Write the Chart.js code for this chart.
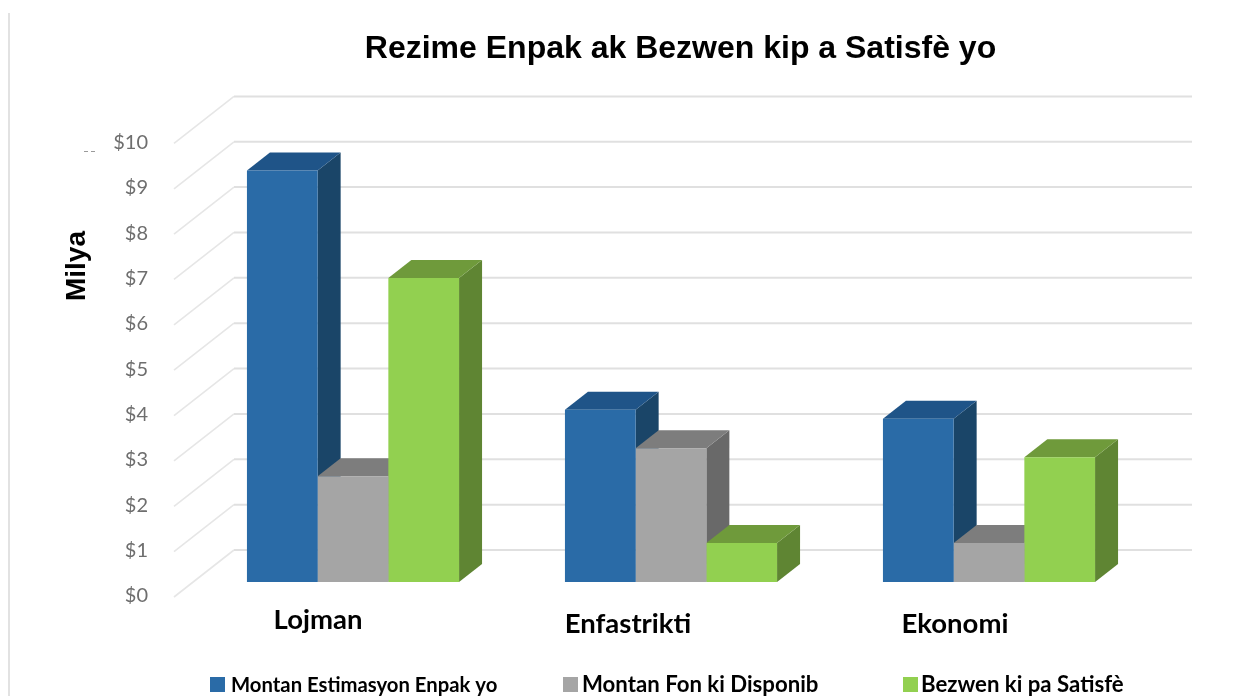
<!DOCTYPE html>
<html>
<head>
<meta charset="utf-8">
<style>
  html, body { margin: 0; padding: 0; background: #fff; }
  #wrap { width: 1235px; height: 696px; }
</style>
<script src="https://cdn.jsdelivr.net/npm/chart.js@4"></script>
</head>
<body>
<div id="wrap"><canvas id="chart" width="1235" height="696"></canvas></div>
<script>
// Data
const categories = ['Lojman', 'Enfastrikti', 'Ekonomi'];
const estimatedNeeds = [9.07, 3.8, 3.6];
const availableFunds = [2.33, 2.95, 0.86];
const unmetNeeds = [6.7, 0.86, 2.75];
const seriesNames = ['Montan Estimasyon Enpak yo', 'Montan Fon ki Disponib', 'Bezwen ki pa Satisfè'];
const yTicks = [0, 1, 2, 3, 4, 5, 6, 7, 8, 9, 10];

// Colours per series: front, top, side
const faces = [
    { front: '#2a6ba7', top: '#1f5488', side: '#1a4568' },
    { front: '#a5a5a5', top: '#7d7d7d', side: '#696969' },
    { front: '#92d050', top: '#6f9a3b', side: '#5f8533' }
];

// Legend and per-category label placement, as in the picture
const legendX = [210, 563, 903];
const legendTextGap = [21, 19, 18];
const legendFontSize = [20.3, 22.2, 22.2];
const labelShift = [-35, -43, -34];
const labelY = [620, 624, 624];

const BAR_DX = 23, BAR_DY = 18;     // depth of a bar
const WALL_DX = 60, WALL_DY = 47;   // depth of the floor
const FRONT_OFFSET = 15;            // front edge of the floor below the bar base

// Back wall, left wall and the 3D faces of the bars
const depthPlugin = {
    id: 'depth',
    afterLayout(chart) {
        // title sits to the right of the page centre
        chart.titleBlock.left = 126;
        chart.titleBlock.right = 1235;
    },
    beforeDatasetsDraw(chart) {
        const ctx = chart.ctx;
        const y = chart.scales.y;
        ctx.save();

        // stray frame line on the left of the picture
        ctx.strokeStyle = '#e2e2e2';
        ctx.lineWidth = 2;
        ctx.beginPath();
        ctx.moveTo(9, 13);
        ctx.lineTo(9, 696);
        ctx.stroke();

        yTicks.forEach(v => {
            const py = y.getPixelForValue(v) + FRONT_OFFSET;
            ctx.strokeStyle = '#e6e6e6';
            ctx.lineWidth = 1.6;
            ctx.beginPath();
            ctx.moveTo(174, py);
            ctx.lineTo(174 + WALL_DX, py - WALL_DY);
            ctx.stroke();
            ctx.strokeStyle = '#e0e0e0';
            ctx.lineWidth = 2;
            ctx.beginPath();
            ctx.moveTo(174 + WALL_DX, py - WALL_DY);
            ctx.lineTo(1192, py - WALL_DY);
            ctx.stroke();
        });
        ctx.restore();

        ctx.save();
        categories.forEach((c, i) => {
            chart.data.datasets.forEach((ds, d) => {
                const bar = chart.getDatasetMeta(d).data[i];
                const left = bar.x - bar.width / 2;
                const right = bar.x + bar.width / 2;
                ctx.fillStyle = faces[d].side;
                ctx.beginPath();
                ctx.moveTo(right, bar.y);
                ctx.lineTo(right + BAR_DX, bar.y - BAR_DY);
                ctx.lineTo(right + BAR_DX, bar.base - BAR_DY);
                ctx.lineTo(right, bar.base);
                ctx.closePath();
                ctx.fill();
                ctx.fillStyle = faces[d].top;
                ctx.beginPath();
                ctx.moveTo(left, bar.y);
                ctx.lineTo(left + BAR_DX, bar.y - BAR_DY);
                ctx.lineTo(right + BAR_DX, bar.y - BAR_DY);
                ctx.lineTo(right, bar.y);
                ctx.closePath();
                ctx.fill();
            });
        });
        ctx.restore();
    },
    afterDraw(chart) {
        const ctx = chart.ctx;
        const x = chart.scales.x;
        ctx.save();

        // category labels
        ctx.fillStyle = '#000';
        ctx.font = 'bold 27.5px Lato';
        ctx.textAlign = 'center';
        ctx.textBaseline = 'middle';
        categories.forEach((c, i) => {
            ctx.fillText(c, x.getPixelForValue(i) + labelShift[i], labelY[i]);
        });

        // legend
        ctx.textAlign = 'left';
        seriesNames.forEach((name, d) => {
            ctx.fillStyle = faces[d].front;
            ctx.fillRect(legendX[d], 677, 15, 15);
            ctx.fillStyle = '#000';
            ctx.font = 'bold ' + legendFontSize[d] + 'px Lato';
            ctx.fillText(name, legendX[d] + legendTextGap[d], 685);
        });

        // leftover specks next to the top tick
        ctx.strokeStyle = '#9a9a9a';
        ctx.lineWidth = 1;
        ctx.setLineDash([4, 3]);
        ctx.beginPath();
        ctx.moveTo(84, 151.5);
        ctx.lineTo(97, 151.5);
        ctx.stroke();
        ctx.setLineDash([]);

        // axis title
        ctx.fillStyle = '#000';
        ctx.translate(77, 266);
        ctx.rotate(-Math.PI / 2);
        ctx.textAlign = 'center';
        ctx.font = 'bold 28px "Liberation Sans"';
        ctx.fillText('Milya', 0, 0);
        ctx.restore();
    }
};

new Chart(document.getElementById('chart'), {
    type: 'bar',
    data: {
        labels: categories,
        datasets: [estimatedNeeds, availableFunds, unmetNeeds].map((values, d) => ({
            label: seriesNames[d],
            data: values,
            backgroundColor: faces[d].front,
            borderWidth: 0,
            barPercentage: 1,
            categoryPercentage: 0.667
        }))
    },
    options: {
        responsive: false,
        animation: false,
        layout: { padding: { top: 0, right: 87, bottom: 0, left: 0 } },
        plugins: {
            legend: { display: false },
            tooltip: { enabled: false },
            title: {
                display: true,
                text: 'Rezime Enpak ak Bezwen kip a Satisfè yo',
                color: '#000',
                font: { family: '"Liberation Sans"', size: 32, weight: 'bold', lineHeight: 1.2 },
                padding: { top: 30, bottom: 60 }
            }
        },
        scales: {
            x: {
                grid: { display: false },
                border: { display: false },
                ticks: { display: false },
                afterFit(scale) { scale.height = 114; }
            },
            y: {
                min: 0,
                max: 10,
                grid: { display: false, drawTicks: false },
                border: { display: false },
                afterFit(scale) { scale.width = 194; },
                ticks: {
                    stepSize: 1,
                    padding: 46,
                    labelOffset: 14,
                    color: '#6e6e6e',
                    font: { family: 'Lato', size: 20 },
                    callback: v => '$' + v
                }
            }
        }
    },
    plugins: [depthPlugin]
});
</script>
</body>
</html>
